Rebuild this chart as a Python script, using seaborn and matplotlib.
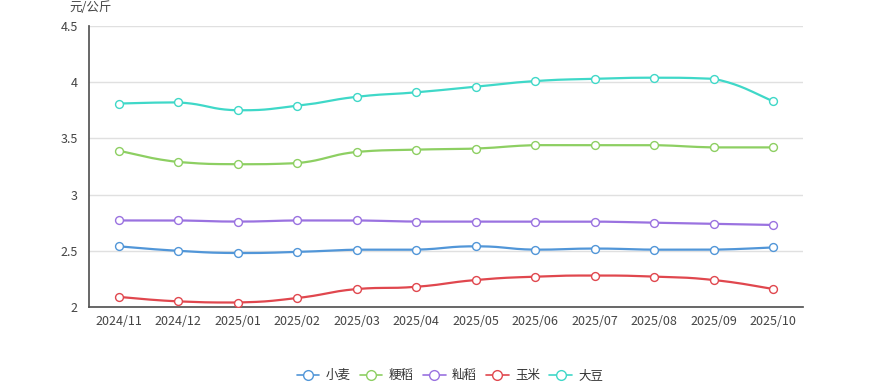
import numpy as np
import pandas as pd
import matplotlib
matplotlib.use('Agg')
import matplotlib.pyplot as plt
from matplotlib.lines import Line2D
import seaborn as sns

# 数据
months = ['2024/11', '2024/12', '2025/01', '2025/02', '2025/03', '2025/04',
          '2025/05', '2025/06', '2025/07', '2025/08', '2025/09', '2025/10']
wheat = [2.54, 2.50, 2.48, 2.49, 2.51, 2.51, 2.54, 2.51, 2.52, 2.51, 2.51, 2.53]
japonica = [3.39, 3.29, 3.27, 3.28, 3.38, 3.40, 3.41, 3.44, 3.44, 3.44, 3.42, 3.42]
indica = [2.77, 2.77, 2.76, 2.77, 2.77, 2.76, 2.76, 2.76, 2.76, 2.75, 2.74, 2.73]
corn = [2.09, 2.05, 2.04, 2.08, 2.16, 2.18, 2.24, 2.27, 2.28, 2.27, 2.24, 2.16]
soybean = [3.81, 3.82, 3.75, 3.79, 3.87, 3.91, 3.96, 4.01, 4.03, 4.04, 4.03, 3.83]

names = ['小麦', '粳稻', '籼稻', '玉米', '大豆']
colors = ['#5196d8', '#8dcf62', '#9a72e0', '#e0474e', '#3fd8c8']
series = [wheat, japonica, indica, corn, soybean]

sns.set_theme(style='white')
plt.rcParams['font.family'] = ['Noto Sans CJK SC', 'DejaVu Sans']
plt.rcParams['axes.unicode_minus'] = False


def smooth_curve(xs, ys, smooth=0.5, n=24):
    # 类似 echarts 的贝塞尔平滑, 控制点不超出端点范围
    pts = np.column_stack([xs, ys]).astype(float)
    out = [pts[0]]
    for i in range(len(pts) - 1):
        p0, p1 = pts[i], pts[i + 1]
        prev = pts[i - 1] if i > 0 else p0
        nxt = pts[i + 2] if i + 2 < len(pts) else p1
        c1 = p0 + (p1 - prev) * smooth / 2
        c2 = p1 - (nxt - p0) * smooth / 2
        lo, hi = min(p0[1], p1[1]), max(p0[1], p1[1])
        c1[1] = np.clip(c1[1], lo, hi)
        c2[1] = np.clip(c2[1], lo, hi)
        t = np.linspace(0, 1, n)[1:, None]
        seg = ((1 - t) ** 3) * p0 + 3 * ((1 - t) ** 2) * t * c1 + 3 * (1 - t) * t ** 2 * c2 + t ** 3 * p1
        out.extend(seg)
    out = np.array(out)
    return out[:, 0], out[:, 1]


fig = plt.figure(figsize=(8.91, 3.84), dpi=100)
ax = fig.add_axes([0.0999, 0.2005, 0.8013, 0.7318])

idx = np.arange(len(months))
for name, vals, c in zip(names, series, colors):
    sx, sy = smooth_curve(idx, vals)
    ax.plot(sx, sy, color=c, lw=1.6, zorder=2)
    sns.scatterplot(x=idx, y=vals, ax=ax, color='white', edgecolor=c,
                    linewidth=1.0, s=32, zorder=3, legend=False)

ax.set_xlim(-0.5, len(months) - 0.5)
ax.set_ylim(2, 4.5)
ax.set_yticks([2, 2.5, 3, 3.5, 4, 4.5])
ax.set_yticklabels(['2', '2.5', '3', '3.5', '4', '4.5'])
ax.set_xticks(idx)
ax.set_xticklabels(months)
ax.set_xticks(np.arange(-0.5, len(months)), minor=True)
ax.tick_params(axis='x', which='major', length=0, pad=6, labelsize=9, labelcolor='#444444')
ax.tick_params(axis='x', which='minor', length=5, color='#555555', width=1, direction='out')
ax.tick_params(axis='y', length=5, color='#555555', width=1, direction='out', pad=3,
               labelsize=9, labelcolor='#444444')
ax.yaxis.grid(True, color='#e0e0e0', lw=1)
ax.set_axisbelow(True)
for s in ['top', 'right']:
    ax.spines[s].set_visible(False)
ax.spines['left'].set_color('#555555')
ax.spines['bottom'].set_color('#555555')
ax.set_xlabel('')
ax.set_ylabel('')

fig.text(0.078, 0.998, '元/公斤', ha='left', va='top', fontsize=9, color='#444444')

handles = [Line2D([0], [0], color=c, lw=1.2, marker='o', markersize=7,
                  markerfacecolor='white', markeredgecolor=c, markeredgewidth=1.0)
           for c in colors]
fig.legend(handles, names, loc='lower center', bbox_to_anchor=(0.505, -0.025), ncol=5,
           frameon=False, fontsize=9, handlelength=1.8, columnspacing=0.75,
           handletextpad=0.5, labelcolor='#333333')

fig.savefig('out.png', dpi=100)
